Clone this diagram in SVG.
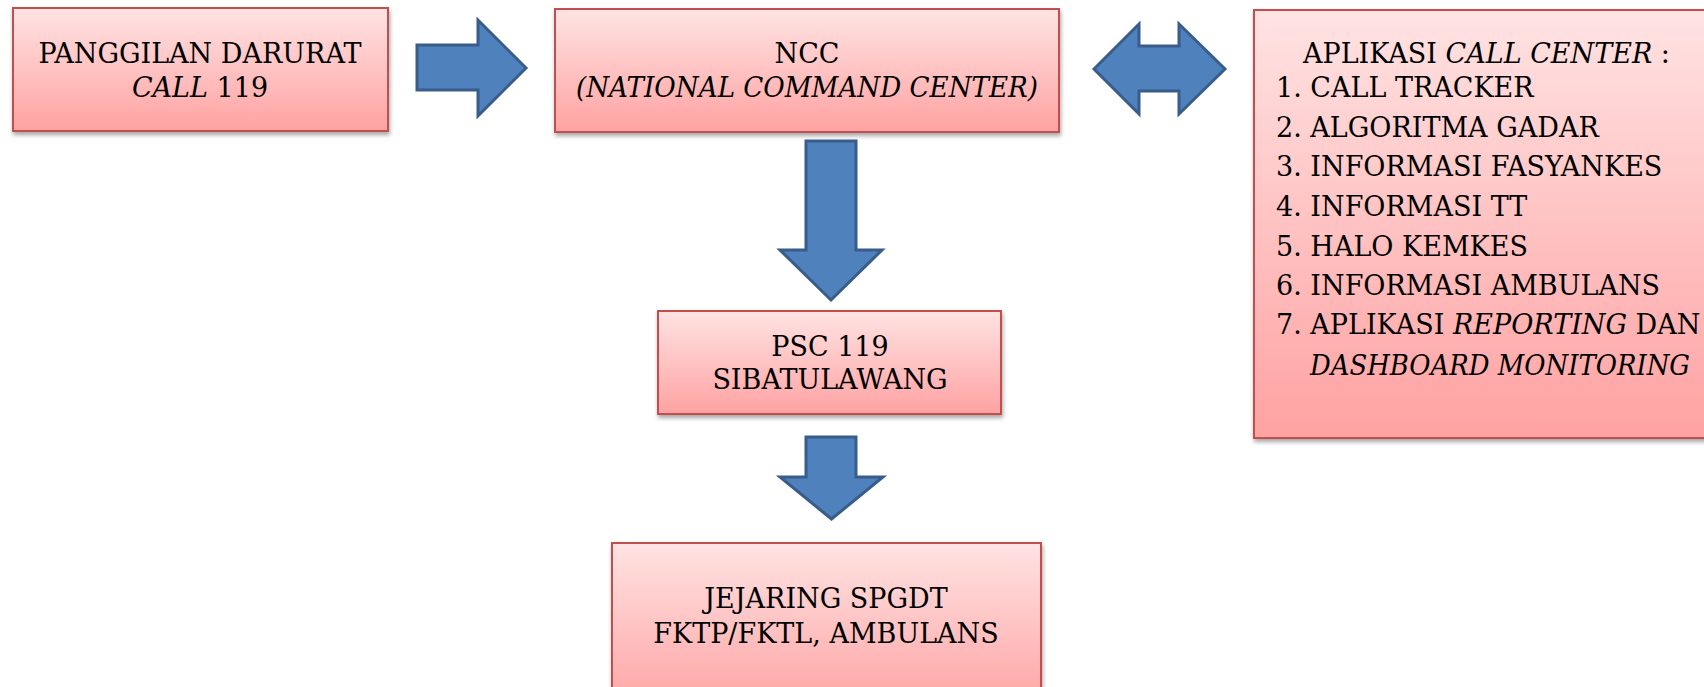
<svg xmlns="http://www.w3.org/2000/svg" width="1704" height="687" viewBox="0 0 1704 687">
<defs>
<linearGradient id="pink" x1="0" y1="0" x2="0" y2="1">
<stop offset="0" stop-color="#FFE3E3"/>
<stop offset="1" stop-color="#FFA2A2"/>
</linearGradient>
<filter id="sh" x="-5%" y="-5%" width="112%" height="125%">
<feDropShadow dx="1" dy="3" stdDeviation="2.2" flood-color="#000" flood-opacity="0.35"/>
</filter>
</defs>
<style>
.box{fill:url(#pink);stroke:#C0504D;stroke-width:2;filter:url(#sh)}
.arr{fill:#4F81BD;stroke:#385D8A;stroke-width:3;stroke-linejoin:miter}
text{font-family:"DejaVu Serif","Liberation Serif",serif;font-size:27px;fill:#000}
.c{text-anchor:middle}
.i{font-style:italic}
</style>
<rect width="1704" height="687" fill="#fff"/>
<g id="connectors">
<polygon class="arr" points="417,45 478,45 478,20 526,68 478,116 478,90 417,90"/>
<polygon class="arr" points="1094,69 1139,24 1139,46 1179,46 1179,24 1225,69 1179,114 1179,91 1139,91 1139,114"/>
<polygon class="arr" points="806,141 856,141 856,250 882,250 831,300 780,250 806,250"/>
<polygon class="arr" points="806,437 856,437 856,477 883,477 831.5,519 780,477 806,477"/>
</g>
<g id="node-panggilan">
<rect class="box" x="13" y="8" width="375" height="123"/>
<text class="c" x="200" y="63">PANGGILAN DARURAT</text>
<text class="c" x="200" y="97"><tspan class="i">CALL</tspan> 119</text>
</g>
<g id="node-ncc">
<rect class="box" x="555" y="9" width="504" height="123"/>
<text class="c" x="807" y="63">NCC</text>
<text class="c i" x="807" y="97" textLength="462" lengthAdjust="spacingAndGlyphs">(NATIONAL COMMAND CENTER)</text>
</g>
<g id="node-aplikasi">
<rect class="box" x="1254" y="10" width="470" height="428"/>
<text x="1303" y="63">APLIKASI <tspan class="i">CALL CENTER</tspan> :</text>
<text x="1276" y="97">1. CALL TRACKER</text>
<text x="1276" y="137">2. ALGORITMA GADAR</text>
<text x="1276" y="176">3. INFORMASI FASYANKES</text>
<text x="1276" y="216">4. INFORMASI TT</text>
<text x="1276" y="256">5. HALO KEMKES</text>
<text x="1276" y="295">6. INFORMASI AMBULANS</text>
<text x="1276" y="334">7. APLIKASI <tspan class="i">REPORTING</tspan> DAN</text>
<text class="i" x="1310" y="375" textLength="380" lengthAdjust="spacingAndGlyphs">DASHBOARD MONITORING</text>
</g>
<g id="node-psc">
<rect class="box" x="658" y="311" width="343" height="103"/>
<text class="c" x="830" y="356">PSC 119</text>
<text class="c" x="830" y="389">SIBATULAWANG</text>
</g>
<g id="node-jejaring">
<rect class="box" x="612" y="543" width="429" height="170"/>
<text class="c" x="826" y="608">JEJARING SPGDT</text>
<text class="c" x="826" y="643">FKTP/FKTL, AMBULANS</text>
</g>
</svg>
